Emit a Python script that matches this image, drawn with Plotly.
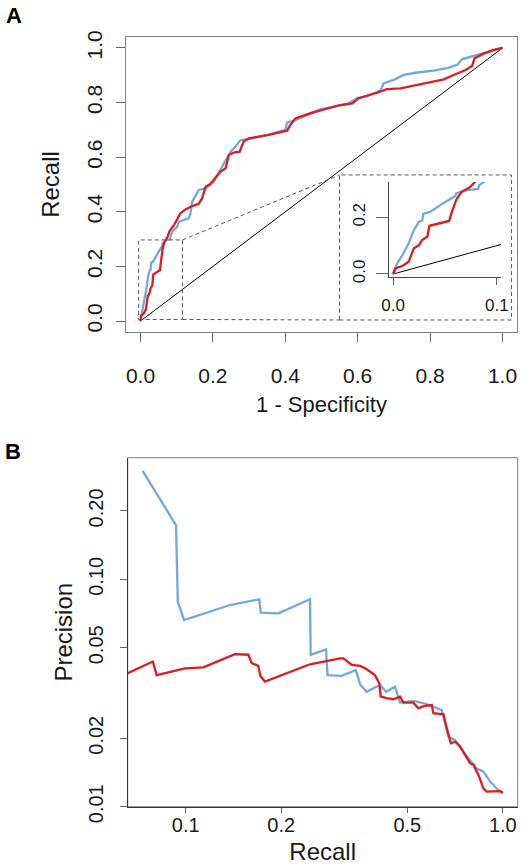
import plotly.graph_objects as go

# ---------------- data ----------------
# Panel A: ROC curves (x = 1 - specificity, y = recall)
roc_blue_fpr = [0, 0.004, 0.009, 0.015, 0.018, 0.021, 0.025, 0.028, 0.029, 0.036, 0.048, 0.060,
                0.061, 0.072, 0.082, 0.083, 0.090, 0.101, 0.106, 0.133, 0.138, 0.143, 0.161,
                0.180, 0.202, 0.221, 0.230, 0.249, 0.262, 0.276, 0.295, 0.350, 0.400, 0.405,
                0.424, 0.460, 0.497, 0.534, 0.571, 0.599, 0.626, 0.663, 0.672, 0.700, 0.727,
                0.764, 0.810, 0.847, 0.875, 0.889, 0.921, 0.948, 1.0]
roc_blue_tpr = [0, 0.038, 0.067, 0.108, 0.138, 0.161, 0.185, 0.188, 0.212, 0.220, 0.249, 0.275,
                0.285, 0.296, 0.300, 0.314, 0.330, 0.345, 0.364, 0.376, 0.394, 0.437, 0.480,
                0.486, 0.510, 0.553, 0.578, 0.620, 0.638, 0.663, 0.665, 0.681, 0.700, 0.726,
                0.734, 0.755, 0.775, 0.785, 0.795, 0.816, 0.824, 0.844, 0.871, 0.883, 0.901,
                0.910, 0.917, 0.926, 0.938, 0.959, 0.971, 0.983, 1.0]
roc_red_fpr = [0, 0.002, 0.009, 0.015, 0.020, 0.025, 0.028, 0.033, 0.035, 0.042, 0.050, 0.054,
               0.056, 0.061, 0.066, 0.074, 0.080, 0.092, 0.110, 0.124, 0.143, 0.161, 0.170,
               0.180, 0.193, 0.207, 0.221, 0.235, 0.244, 0.258, 0.274, 0.285, 0.299, 0.350,
               0.405, 0.414, 0.428, 0.470, 0.506, 0.552, 0.585, 0.603, 0.654, 0.681, 0.718,
               0.764, 0.810, 0.838, 0.865, 0.898, 0.916, 0.923, 0.948, 0.976, 1.0]
roc_red_tpr = [0, 0.020, 0.028, 0.043, 0.091, 0.102, 0.120, 0.132, 0.170, 0.176, 0.185, 0.187,
               0.212, 0.263, 0.290, 0.306, 0.329, 0.350, 0.394, 0.409, 0.421, 0.429, 0.449,
               0.492, 0.502, 0.523, 0.547, 0.559, 0.608, 0.617, 0.620, 0.657, 0.669, 0.681,
               0.697, 0.718, 0.742, 0.761, 0.773, 0.791, 0.797, 0.816, 0.836, 0.849, 0.852,
               0.864, 0.877, 0.885, 0.901, 0.919, 0.934, 0.962, 0.979, 0.993, 1.0]
chance_line = [0, 1]

# Panel B: precision-recall curves
pr_blue_recall = [0.0731, 0.0932, 0.0944, 0.0988, 0.138, 0.1706, 0.1725, 0.196, 0.2466, 0.2478,
                  0.277, 0.280, 0.3105, 0.344, 0.355, 0.372, 0.410, 0.4285, 0.457, 0.474, 0.522,
                  0.575, 0.642, 0.674, 0.708, 0.751, 0.828, 0.869, 0.912, 0.957, 1.0]
pr_blue_precision = [0.300, 0.173, 0.0797, 0.0662, 0.0771, 0.0817, 0.0713, 0.0709, 0.0817, 0.0465,
                     0.0492, 0.0379, 0.0376, 0.0399, 0.0345, 0.0320, 0.0343, 0.0320, 0.0337, 0.0287,
                     0.0292, 0.0283, 0.0266, 0.0203, 0.0196, 0.0174, 0.0147, 0.01425, 0.0129,
                     0.0120, 0.01153]
pr_red_recall = [0.0656, 0.0787, 0.081, 0.0995, 0.1137, 0.143, 0.1576, 0.1615, 0.1694, 0.172,
                 0.1778, 0.2466, 0.307, 0.314, 0.334, 0.355, 0.372, 0.395, 0.408, 0.412, 0.430,
                 0.452, 0.474, 0.486, 0.522, 0.542, 0.562, 0.597, 0.604, 0.650, 0.666, 0.686,
                 0.708, 0.733, 0.789, 0.808, 0.838, 0.869, 0.890, 0.934, 0.980, 1.0]
pr_red_precision = [0.0386, 0.0435, 0.0379, 0.0406, 0.0410, 0.0469, 0.0466, 0.0428, 0.0416, 0.0376,
                    0.0355, 0.0423, 0.0449, 0.0449, 0.0420, 0.0416, 0.0402, 0.0379, 0.0349, 0.0305,
                    0.0300, 0.0297, 0.0305, 0.0287, 0.0287, 0.0271, 0.0277, 0.0280, 0.0258, 0.0255,
                    0.0221, 0.0190, 0.0193, 0.0184, 0.0155, 0.0153, 0.0138, 0.0120, 0.01165,
                    0.0117, 0.0117, 0.0115]

# ticks
roc_ticks = [0, 0.2, 0.4, 0.6, 0.8, 1.0]
roc_tick_text = ["0.0", "0.2", "0.4", "0.6", "0.8", "1.0"]
inset_x_ticks = [0, 0.1]
inset_x_text = ["0.0", "0.1"]
inset_y_ticks = [0, 0.2]
inset_y_text = ["0.0", "0.2"]
pr_x_ticks = [0.1, 0.2, 0.5, 1.0]
pr_x_text = ["0.1", "0.2", "0.5", "1.0"]
pr_y_ticks = [0.01, 0.02, 0.05, 0.10, 0.20]
pr_y_text = ["0.01", "0.02", "0.05", "0.10", "0.20"]

# ---------------- styling ----------------
W, H = 526, 865
BLUE = "#6FA8E6"
RED = "#E3191C"
FONT = "Liberation Sans, Arial, sans-serif"
TXT = "#1a1a1a"
TICKC = "#666666"
BOXC = "#808080"


def fx(p):
    return p / W


def fy(p):
    return 1 - p / H


fig = go.Figure()

# Panel A main
fig.add_trace(go.Scatter(x=chance_line, y=chance_line, mode="lines",
                         line=dict(color="black", width=1), xaxis="x", yaxis="y",
                         showlegend=False, hoverinfo="skip"))
fig.add_trace(go.Scatter(x=roc_blue_fpr, y=roc_blue_tpr, mode="lines",
                         line=dict(color=BLUE, width=2.3), xaxis="x", yaxis="y",
                         showlegend=False))
fig.add_trace(go.Scatter(x=roc_red_fpr, y=roc_red_tpr, mode="lines",
                         line=dict(color=RED, width=2.3), xaxis="x", yaxis="y",
                         showlegend=False))
# Panel A inset
fig.add_trace(go.Scatter(x=chance_line, y=chance_line, mode="lines",
                         line=dict(color="black", width=1), xaxis="x3", yaxis="y3",
                         showlegend=False, hoverinfo="skip"))
fig.add_trace(go.Scatter(x=roc_blue_fpr, y=roc_blue_tpr, mode="lines",
                         line=dict(color=BLUE, width=2.3), xaxis="x3", yaxis="y3",
                         showlegend=False))
fig.add_trace(go.Scatter(x=roc_red_fpr, y=roc_red_tpr, mode="lines",
                         line=dict(color=RED, width=2.3), xaxis="x3", yaxis="y3",
                         showlegend=False))
# Panel B
fig.add_trace(go.Scatter(x=pr_blue_recall, y=pr_blue_precision, mode="lines",
                         line=dict(color=BLUE, width=2.3), xaxis="x2", yaxis="y2",
                         showlegend=False))
fig.add_trace(go.Scatter(x=pr_red_recall, y=pr_red_precision, mode="lines",
                         line=dict(color=RED, width=2.3), xaxis="x2", yaxis="y2",
                         showlegend=False))

common = dict(showgrid=False, zeroline=False, ticks="outside", tickcolor=TICKC,
              tickwidth=1, tickfont=dict(family=FONT, size=21, color=TXT))

fig.update_layout(
    width=W, height=H, margin=dict(l=0, r=0, t=0, b=0),
    paper_bgcolor="white", plot_bgcolor="white", showlegend=False,
    font=dict(family=FONT, color=TXT),
    xaxis=dict(**common, domain=[fx(126), fx(517)], range=[-0.04, 1.04], anchor="y",
               tickvals=roc_ticks, ticktext=roc_tick_text, ticklen=9,
               ticklabelstandoff=16,
               showline=True, mirror=True, linecolor=BOXC, linewidth=1,
               title=dict(text="1 - Specificity", font=dict(size=22, family=FONT, color=TXT),
                          standoff=10)),
    yaxis=dict(**common, domain=[fy(332), fy(37)], range=[-0.04, 1.04], anchor="x",
               tickvals=roc_ticks, ticktext=roc_tick_text, ticklen=9, tickangle=-90,
               ticklabelstandoff=6,
               showline=True, mirror=True, linecolor=BOXC, linewidth=1,
               title=dict(text="Recall", font=dict(size=24, family=FONT, color=TXT),
                          standoff=16)),
    xaxis3=dict(showgrid=False, zeroline=False, ticks="outside", tickcolor=TICKC,
                tickfont=dict(family=FONT, size=17, color=TXT),
                domain=[fx(389), fx(501)], range=[-0.004, 0.104], anchor="y3",
                tickvals=inset_x_ticks, ticktext=inset_x_text, ticklen=7,
                ticklabelstandoff=6,
                showline=True, linecolor="#444444", linewidth=1),
    yaxis3=dict(showgrid=False, zeroline=False, ticks="outside", tickcolor=TICKC,
                tickfont=dict(family=FONT, size=17, color=TXT),
                domain=[fy(277), fy(182)], range=[-0.0106, 0.3245], anchor="x3",
                tickvals=inset_y_ticks, ticktext=inset_y_text, ticklen=12, tickangle=-90,
                ticklabelstandoff=4,
                showline=True, linecolor="#444444", linewidth=1),
    xaxis2=dict(**common, type="log", domain=[fx(127.7), fx(517.7)], range=[-1.183, 0.047],
                anchor="y2", tickvals=pr_x_ticks, ticktext=pr_x_text, ticklen=5,
                ticklabelstandoff=-5, tickfont_size=20,
                showline=True, linecolor="#333333", linewidth=1,
                title=dict(text="Recall", font=dict(size=24, family=FONT, color=TXT),
                           standoff=13)),
    yaxis2=dict(**common, type="log", domain=[fy(806.7), fy(457.7)], range=[-2, -0.465],
                anchor="x2", tickvals=pr_y_ticks, ticktext=pr_y_text, ticklen=7,
                tickangle=-90, ticklabelstandoff=9, tickfont_size=20,
                showline=True, linecolor="#333333", linewidth=1,
                title=dict(text="Precision", font=dict(size=24, family=FONT, color=TXT),
                           standoff=5)),
)
fig.update_xaxes(automargin=False)
fig.update_yaxes(automargin=False)

dash = dict(color="#555555", width=1, dash="4px,3px")
shapes = [
    # grey frame of panel B
    dict(type="rect", xref="x2 domain", yref="y2 domain", x0=0, x1=1, y0=0, y1=1,
         line=dict(color=BOXC, width=1), layer="below"),
    # zoom rectangle and inset frame in panel A
    dict(type="rect", xref="x", yref="y", x0=-0.005, x1=0.116, y0=0.006, y1=0.297, line=dash),
    dict(type="rect", xref="x", yref="y", x0=0.5497, x1=1.025, y0=0.004, y1=0.535, line=dash),
    dict(type="line", xref="x", yref="y", x0=0.116, y0=0.297, x1=0.5497, y1=0.535, line=dash),
    dict(type="line", xref="x", yref="y", x0=0.116, y0=0.006, x1=0.5497, y1=0.004, line=dash),
]
fig.update_layout(shapes=shapes)

fig.update_layout(annotations=[
    dict(text="<b>A</b>", x=fx(14), y=fy(15), xref="paper", yref="paper", showarrow=False,
         font=dict(family=FONT, size=22, color="black"), xanchor="center", yanchor="middle"),
    dict(text="<b>B</b>", x=fx(13), y=fy(452), xref="paper", yref="paper", showarrow=False,
         font=dict(family=FONT, size=22, color="black"), xanchor="center", yanchor="middle"),
])

fig.write_html("out.html", config={"displayModeBar": False},
               post_script="document.body.style.margin='0px';"
                           "document.documentElement.style.overflow='hidden';")
